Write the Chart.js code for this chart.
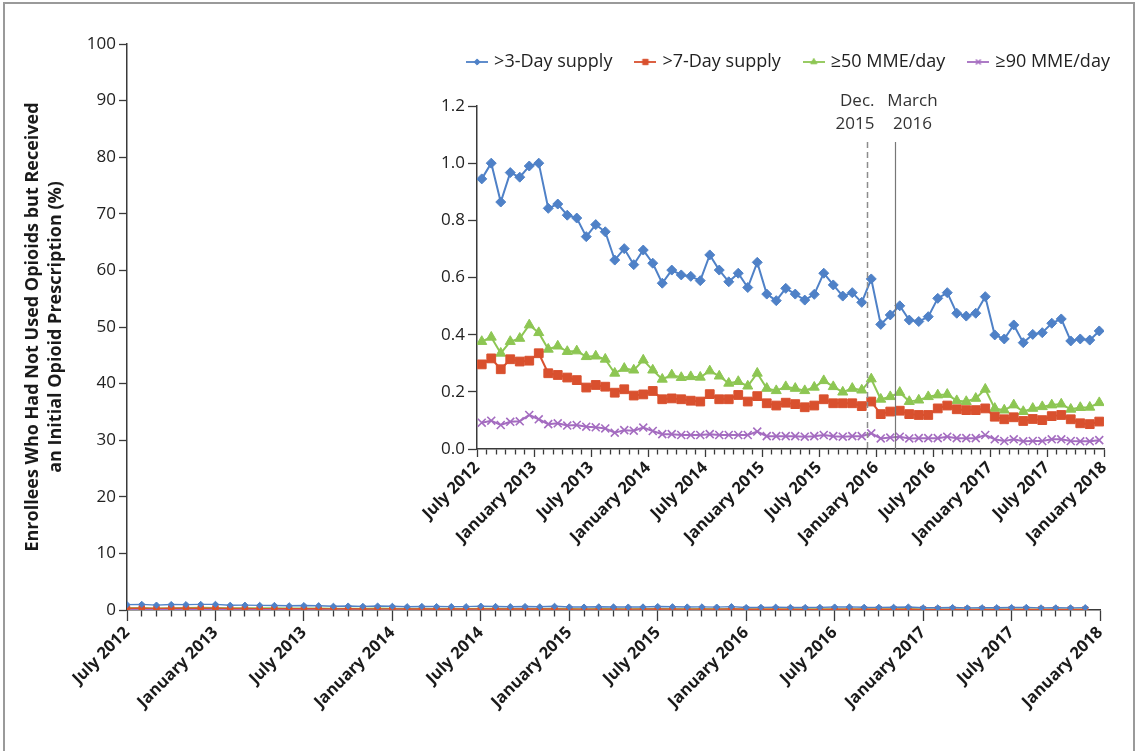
<!DOCTYPE html>
<html>
<head>
<meta charset="utf-8">
<title>Initial opioid prescriptions, July 2012 – December 2017</title>
<script src="https://cdn.jsdelivr.net/npm/chart.js@4.4.1/dist/chart.umd.min.js"></script>
<style>
  html, body { margin: 0; padding: 0; background: #fff; overflow: hidden; }
  #stage { position: relative; width: 1136px; height: 751px; overflow: hidden; background: #fff; }
  #frame { position: absolute; left: 3px; top: 2px; width: 1132px; height: 800px;
           border: 2px solid #9a9a9a; box-sizing: border-box; }
  #main { position: absolute; left: 0; top: 0; }
  #inset { position: absolute; left: 380px; top: 28px; }
</style>
</head>
<body>
<div id="stage">
  <div id="frame"></div>
  <canvas id="main" width="1136" height="751"></canvas>
  <canvas id="inset" width="819" height="600"></canvas>
</div>
<script>
// ---- categories: one entry per month ----
const months = [
  '2012-07','2012-08','2012-09','2012-10','2012-11','2012-12',
  '2013-01','2013-02','2013-03','2013-04','2013-05','2013-06','2013-07','2013-08','2013-09','2013-10','2013-11','2013-12',
  '2014-01','2014-02','2014-03','2014-04','2014-05','2014-06','2014-07','2014-08','2014-09','2014-10','2014-11','2014-12',
  '2015-01','2015-02','2015-03','2015-04','2015-05','2015-06','2015-07','2015-08','2015-09','2015-10','2015-11','2015-12',
  '2016-01','2016-02','2016-03','2016-04','2016-05','2016-06','2016-07','2016-08','2016-09','2016-10','2016-11','2016-12',
  '2017-01','2017-02','2017-03','2017-04','2017-05','2017-06','2017-07','2017-08','2017-09','2017-10','2017-11','2017-12'
];

// ---- axis tick labels (every six months, including the closing January 2018 boundary) ----
const tickLabels = [
  'July 2012','January 2013','July 2013','January 2014','July 2014','January 2015',
  'July 2015','January 2016','July 2016','January 2017','July 2017','January 2018'
];
const mainYTicks = [0, 10, 20, 30, 40, 50, 60, 70, 80, 90, 100];
const insetYTicks = [0, 0.2, 0.4, 0.6, 0.8, 1.0, 1.2];

// ---- series values (% of enrollees) ----
const supply3 = [
  0.945, 1.000, 0.864, 0.967, 0.951, 0.990, 1.000, 0.842, 0.857, 0.818, 0.808, 0.743,
  0.785, 0.760, 0.661, 0.701, 0.645, 0.696, 0.650, 0.580, 0.626, 0.609, 0.604, 0.589,
  0.679, 0.626, 0.585, 0.615, 0.565, 0.653, 0.542, 0.519, 0.562, 0.542, 0.521, 0.541,
  0.615, 0.574, 0.535, 0.547, 0.513, 0.595, 0.436, 0.469, 0.501, 0.451, 0.446, 0.463,
  0.527, 0.547, 0.475, 0.465, 0.475, 0.533, 0.399, 0.385, 0.434, 0.372, 0.401, 0.407,
  0.440, 0.455, 0.378, 0.385, 0.381, 0.413
];
const supply7 = [
  0.296, 0.317, 0.279, 0.314, 0.306, 0.309, 0.335, 0.265, 0.259, 0.250, 0.241, 0.215,
  0.224, 0.218, 0.197, 0.209, 0.187, 0.191, 0.203, 0.174, 0.177, 0.174, 0.169, 0.166,
  0.192, 0.174, 0.174, 0.189, 0.166, 0.185, 0.160, 0.152, 0.162, 0.157, 0.146, 0.152,
  0.174, 0.160, 0.160, 0.160, 0.150, 0.166, 0.122, 0.131, 0.134, 0.122, 0.119, 0.119,
  0.142, 0.152, 0.139, 0.136, 0.136, 0.142, 0.113, 0.104, 0.111, 0.098, 0.105, 0.101,
  0.115, 0.119, 0.104, 0.090, 0.087, 0.096
];
const mme50 = [
  0.376, 0.391, 0.335, 0.376, 0.387, 0.434, 0.407, 0.349, 0.360, 0.341, 0.343, 0.323,
  0.325, 0.314, 0.265, 0.282, 0.276, 0.311, 0.276, 0.244, 0.259, 0.250, 0.253, 0.251,
  0.273, 0.255, 0.230, 0.236, 0.220, 0.265, 0.212, 0.204, 0.218, 0.212, 0.204, 0.216,
  0.239, 0.218, 0.199, 0.212, 0.206, 0.245, 0.174, 0.183, 0.198, 0.166, 0.171, 0.183,
  0.189, 0.191, 0.169, 0.166, 0.177, 0.209, 0.142, 0.136, 0.154, 0.131, 0.142, 0.148,
  0.154, 0.157, 0.139, 0.145, 0.146, 0.162
];
const mme90 = [
  0.092, 0.099, 0.084, 0.095, 0.097, 0.119, 0.104, 0.087, 0.090, 0.082, 0.084, 0.078,
  0.076, 0.072, 0.057, 0.066, 0.064, 0.075, 0.063, 0.052, 0.052, 0.049, 0.049, 0.049,
  0.052, 0.049, 0.049, 0.049, 0.049, 0.061, 0.045, 0.045, 0.045, 0.045, 0.043, 0.045,
  0.049, 0.045, 0.043, 0.045, 0.045, 0.055, 0.037, 0.040, 0.043, 0.037, 0.038, 0.038,
  0.038, 0.043, 0.038, 0.038, 0.038, 0.049, 0.034, 0.028, 0.034, 0.027, 0.028, 0.028,
  0.034, 0.034, 0.028, 0.027, 0.027, 0.031
];
const seriesNames = ['>3-Day supply', '>7-Day supply', '\u226550 MME/day', '\u226590 MME/day'];

// ---- policy events marked on the inset ----
const eventMonths = ['2015-12', '2016-03'];
const eventLabels = [['Dec.', '2015'], ['March', '2016']];

// ---------------------------------------------------------------------------
const FONT = '"Open Sans", "DejaVu Sans", sans-serif';
const INK = '#222';
const AXIS = '#3a3a3a';
const styles = [
  { color: '#4f81c7', marker: 'rectRot',  r: 5.0 },
  { color: '#d9502e', marker: 'rect',     r: 6.2 },
  { color: '#8dc653', marker: 'triangle', r: 5.8 },
  { color: '#a46cc0', marker: 'crossRot', r: 5.6 }
];
Chart.defaults.font.family = FONT;
Chart.defaults.color = INK;
Chart.defaults.animation = false;

const series = [supply3, supply7, mme50, mme90];
const lastTick = months.length;           // January 2018 boundary
const tickName = v => (v % 6 === 0 ? tickLabels[v / 6] : '');

function datasets(xShift, scale, lineW) {
  return series.map((vals, k) => ({
    label: seriesNames[k],
    data: vals.map((v, i) => ({ x: i + xShift, y: v })),
    borderColor: styles[k].color,
    backgroundColor: styles[k].color,
    pointBorderColor: styles[k].color,
    pointBackgroundColor: styles[k].color,
    pointStyle: styles[k].marker,
    pointRadius: styles[k].r * scale,
    pointBorderWidth: styles[k].marker === 'crossRot' ? 1.6 : 1,
    borderWidth: lineW,
    tension: 0
  }));
}

function monthAxis(major, minor, fontSize, padding) {
  return {
    type: 'linear', position: 'bottom', min: 0, max: lastTick,
    border: { color: AXIS, width: 1.5 },
    grid: {
      drawOnChartArea: false, color: AXIS, tickColor: AXIS, tickWidth: 1.3,
      tickLength: major,
      tickBorderDash: c => (c.tick && c.tick.value % 6 !== 0 ? [minor, 60] : [])
    },
    ticks: {
      stepSize: 1, autoSkip: false, minRotation: 45, maxRotation: 45,
      padding: padding, color: '#1a1a1a',
      font: { size: fontSize, weight: 'bold', family: FONT },
      callback: v => tickName(v)
    }
  };
}

// ---- full-scale chart (0–100 %) ----
new Chart(document.getElementById('main'), {
  type: 'line',
  data: { datasets: datasets(0, 0.62, 1.4) },
  options: {
    responsive: false,
    layout: { padding: { left: 10, right: 36, top: 44, bottom: 0 } },
    plugins: { legend: { display: false }, tooltip: { enabled: false } },
    scales: {
      x: Object.assign(monthAxis(11, 6, 16.5, 2), { afterFit: s => { s.height = 141; } }),
      y: {
        min: 0, max: 100,
        afterBuildTicks: s => { s.ticks = mainYTicks.map(v => ({ value: v })); },
        afterFit: s => { s.width = 117; },
        border: { color: AXIS, width: 1.5 },
        grid: { drawOnChartArea: false, color: AXIS, tickLength: 8, tickWidth: 1.3 },
        ticks: { padding: 3, color: INK, font: { size: 17, family: FONT } },
        title: {
          display: true,
          text: ['Enrollees Who Had Not Used Opioids but Received', 'an Initial Opioid Prescription (%)'],
          color: '#1a1a1a',
          font: { size: 18, weight: 'bold', family: FONT, lineHeight: 1.25 },
          padding: { top: 12, bottom: 0 }
        }
      }
    }
  }
});

// ---- legend icons: a short line with the series marker ----
function legendIcon(st) {
  const c = document.createElement('canvas');
  c.width = 22; c.height = 12;
  const g = c.getContext('2d');
  g.strokeStyle = st.color; g.fillStyle = st.color; g.lineWidth = 1.8;
  g.beginPath(); g.moveTo(0, 6); g.lineTo(22, 6); g.stroke();
  g.lineWidth = st.marker === 'crossRot' ? 1.4 : 1;
  Chart.helpers.drawPoint(g, { pointStyle: st.marker, radius: st.r * 0.62, rotation: 0, borderWidth: g.lineWidth }, 11, 6);
  return c;
}
const icons = styles.map(legendIcon);

// ---- policy event lines and captions ----
const eventMarkers = {
  id: 'eventMarkers',
  afterDatasetsDraw(chart) {
    const { ctx, chartArea, scales: { x } } = chart;
    eventMonths.forEach((m, k) => {
      const px = Math.round(x.getPixelForValue(months.indexOf(m))) + 0.5;
      ctx.save();
      ctx.strokeStyle = k === 0 ? '#8c8c8c' : '#777';
      ctx.lineWidth = k === 0 ? 1.5 : 1.2;
      ctx.setLineDash(k === 0 ? [6, 4] : []);
      ctx.beginPath();
      ctx.moveTo(px, chartArea.top + 36);
      ctx.lineTo(px, chartArea.bottom);
      ctx.stroke();
      ctx.setLineDash([]);
      ctx.fillStyle = '#333';
      ctx.font = '17px ' + FONT;
      ctx.textBaseline = 'middle';
      ctx.textAlign = k === 0 ? 'right' : 'center';
      const tx = k === 0 ? px + 7 : px + 17;
      eventLabels[k].forEach((line, j) => ctx.fillText(line, tx, chartArea.top - 5 + j * 23));
      ctx.restore();
    });
  }
};

// ---- magnified inset (0–1.2 %) ----
new Chart(document.getElementById('inset'), {
  type: 'line',
  data: { datasets: datasets(0.5, 1, 2) },
  plugins: [eventMarkers],
  options: {
    responsive: false,
    layout: { padding: 0 },
    plugins: {
      tooltip: { enabled: false },
      legend: {
        position: 'top', align: 'center',
        labels: {
          usePointStyle: true, pointStyleWidth: 16, padding: 25, color: INK,
          font: { size: 18, family: FONT },
          generateLabels: chart =>
            Chart.defaults.plugins.legend.labels.generateLabels(chart)
              .map((item, k) => Object.assign(item, { pointStyle: icons[k], lineWidth: 0 }))
        }
      }
    },
    scales: {
      x: Object.assign(monthAxis(8, 5, 16.5, 1), { afterFit: s => { s.height = 179; } }),
      y: {
        min: 0, max: 1.2,
        afterBuildTicks: s => { s.ticks = insetYTicks.map(v => ({ value: v })); },
        afterFit: s => { s.width = 97; },
        border: { color: AXIS, width: 1.5 },
        grid: { drawOnChartArea: false, color: AXIS, tickLength: 9, tickWidth: 1.3 },
        ticks: { padding: 3, color: INK, font: { size: 17, family: FONT }, callback: v => v.toFixed(1) }
      },
      // spacing between the legend row and the plot, and room for the legend's right end
      gapTop: { type: 'linear', position: 'top', display: true, grid: { display: false }, border: { display: false },
                ticks: { display: false }, afterFit: s => { s.height = 25; } },
      gapRight: { type: 'linear', position: 'right', display: true, grid: { display: false }, border: { display: false },
                  ticks: { display: false }, afterFit: s => { s.width = 95; } }
    }
  }
});
</script>
</body>
</html>
